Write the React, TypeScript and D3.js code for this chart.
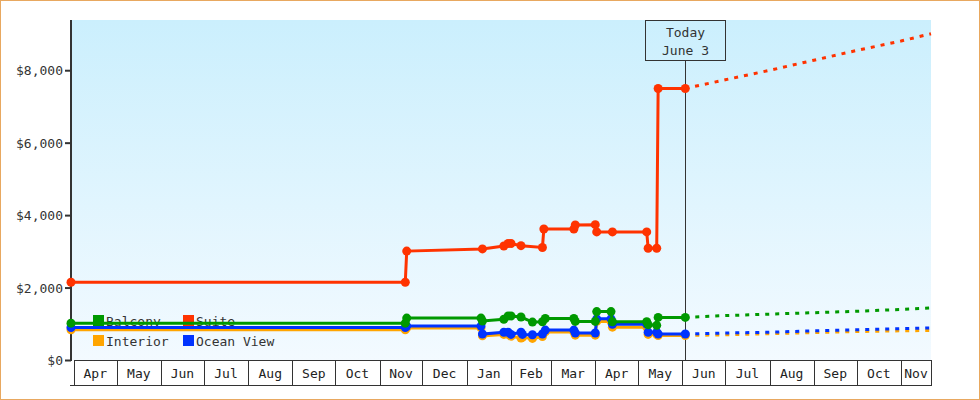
import React, { useEffect, useRef } from "react";
import * as d3 from "d3";

// price history per cabin type: [date, price]
const interiorHistory: [string, number][] = [
  ["2022-03-30", 850], ["2022-11-19", 850], ["2022-11-20", 900],
  ["2023-01-11", 900], ["2023-01-12", 680], ["2023-01-27", 720],
  ["2023-01-30", 720], ["2023-02-01", 670], ["2023-02-08", 620],
  ["2023-02-09", 640], ["2023-02-16", 610], ["2023-02-23", 660],
  ["2023-02-25", 790], ["2023-03-17", 790], ["2023-03-18", 700],
  ["2023-04-01", 700], ["2023-04-02", 1080], ["2023-04-12", 1080],
  ["2023-04-13", 920], ["2023-05-07", 920], ["2023-05-08", 720],
  ["2023-05-14", 720], ["2023-05-15", 690], ["2023-06-03", 690],
];
const oceanViewHistory: [string, number][] = [
  ["2022-03-30", 910], ["2022-11-19", 910], ["2022-11-20", 950],
  ["2023-01-11", 950], ["2023-01-12", 730], ["2023-01-27", 780],
  ["2023-01-30", 780], ["2023-02-01", 720], ["2023-02-08", 780],
  ["2023-02-09", 720], ["2023-02-16", 710], ["2023-02-23", 730],
  ["2023-02-25", 840], ["2023-03-17", 840], ["2023-03-18", 760],
  ["2023-04-01", 760], ["2023-04-02", 1150], ["2023-04-12", 1150],
  ["2023-04-13", 1000], ["2023-05-07", 1000], ["2023-05-08", 780],
  ["2023-05-14", 780], ["2023-05-15", 730], ["2023-06-03", 730],
];
const balconyHistory: [string, number][] = [
  ["2022-03-30", 1030], ["2022-11-19", 1030], ["2022-11-20", 1170],
  ["2023-01-11", 1170], ["2023-01-12", 1090], ["2023-01-27", 1140],
  ["2023-01-30", 1230], ["2023-02-01", 1230], ["2023-02-08", 1200],
  ["2023-02-16", 1060], ["2023-02-23", 1070], ["2023-02-25", 1160],
  ["2023-03-17", 1160], ["2023-03-18", 1080], ["2023-04-01", 1080],
  ["2023-04-02", 1350], ["2023-04-12", 1350], ["2023-04-13", 1070],
  ["2023-05-07", 1070], ["2023-05-08", 990], ["2023-05-14", 970],
  ["2023-05-15", 1190], ["2023-06-03", 1190],
];
const suiteHistory: [string, number][] = [
  ["2022-03-30", 2160], ["2022-11-19", 2160], ["2022-11-20", 3020],
  ["2023-01-12", 3080], ["2023-01-27", 3160], ["2023-01-30", 3230],
  ["2023-02-01", 3230], ["2023-02-08", 3170], ["2023-02-23", 3120],
  ["2023-02-24", 3630], ["2023-03-17", 3630], ["2023-03-18", 3740],
  ["2023-04-01", 3750], ["2023-04-02", 3550], ["2023-04-13", 3550],
  ["2023-05-07", 3550], ["2023-05-08", 3100], ["2023-05-14", 3100],
  ["2023-05-15", 7510], ["2023-06-03", 7510],
];

// projected prices after today
const projectionDates = ["2023-06-03", "2023-07-01", "2023-08-01", "2023-09-01", "2023-10-01", "2023-11-01", "2023-11-22"];
const interiorProjection = [690, 710, 740, 770, 800, 820, 830];
const oceanViewProjection = [730, 760, 780, 820, 850, 880, 900];
const balconyProjection = [1190, 1240, 1280, 1320, 1360, 1410, 1450];
const suiteProjection = [7510, 7750, 8010, 8290, 8560, 8820, 9020];

const seriesNames = ["Interior", "Ocean View", "Balcony", "Suite"];
const seriesColors = ["#FFA500", "#0033FF", "#009900", "#FF3300"];
const legendOrder = ["Balcony", "Suite", "Interior", "Ocean View"];
const priceTicks = [0, 2000, 4000, 6000, 8000];
const dateDomain = ["2022-03-30", "2023-11-22"];
const todayDate = "2023-06-03";
const todayLabel = ["Today", "June 3"];

const FONT = "'DejaVu Sans Mono', monospace";

export default function App() {
  const ref = useRef<SVGSVGElement>(null);

  useEffect(() => {
    const parse = d3.timeParse("%Y-%m-%d");
    const svg = d3.select(ref.current);
    svg.selectAll("*").remove();

    const left = 71, right = 931, top = 20, bottom = 360.5;

    const x = d3.scaleTime()
      .domain(dateDomain.map(d => parse(d) as Date))
      .range([left, right]);
    const y = d3.scaleLinear().domain([0, 9400]).range([bottom, top]);

    // background gradient
    const defs = svg.append("defs");
    const grad = defs.append("linearGradient")
      .attr("id", "bg").attr("x1", 0).attr("y1", 0).attr("x2", 0).attr("y2", 1);
    grad.append("stop").attr("offset", "0%").attr("stop-color", "#CBEFFD");
    grad.append("stop").attr("offset", "100%").attr("stop-color", "#F3FAFF");

    svg.append("rect")
      .attr("x", 0.5).attr("y", 0.5).attr("width", 979).attr("height", 399)
      .attr("fill", "#fff").attr("stroke", "#E8A860");

    svg.append("rect")
      .attr("x", left).attr("y", top)
      .attr("width", right - left).attr("height", bottom - top)
      .attr("fill", "url(#bg)");

    // legend (sits under the lines)
    const legend = svg.append("g").attr("font-family", FONT).attr("font-size", 13);
    legendOrder.forEach((name, i) => {
      const col = i % 2, row = Math.floor(i / 2);
      const gx = 93 + col * 90, gy = 315 + row * 20;
      legend.append("rect")
        .attr("x", gx).attr("y", gy).attr("width", 11).attr("height", 11)
        .attr("fill", seriesColors[seriesNames.indexOf(name)]);
      legend.append("text")
        .attr("x", gx + 13).attr("y", gy + 10.5)
        .attr("fill", "#333").text(name);
    });

    // month boxes along the bottom
    const months = d3.timeMonth.range(new Date(2022, 3, 1), new Date(2023, 11, 1));
    const axis = svg.append("g").attr("font-family", FONT).attr("font-size", 13);
    months.forEach(m => {
      const x0 = x(m);
      const x1 = Math.min(x(d3.timeMonth.offset(m, 1)), right);
      axis.append("rect")
        .attr("x", Math.round(x0) + 0.5).attr("y", 360.5)
        .attr("width", Math.round(x1) - Math.round(x0)).attr("height", 25)
        .attr("fill", "#fff").attr("stroke", "#333");
      axis.append("text")
        .attr("x", (x0 + x1) / 2).attr("y", 378)
        .attr("text-anchor", "middle").attr("fill", "#222")
        .text(d3.timeFormat("%b")(m));
    });
    axis.append("line")
      .attr("x1", 70).attr("x2", right).attr("y1", 385.5).attr("y2", 385.5)
      .attr("stroke", "#333");

    // y axis
    const yAxis = svg.append("g").attr("font-family", FONT).attr("font-size", 13);
    yAxis.append("line")
      .attr("x1", left).attr("x2", left).attr("y1", top).attr("y2", 361)
      .attr("stroke", "#333").attr("stroke-width", 2);
    priceTicks.forEach(t => {
      yAxis.append("line")
        .attr("x1", 65).attr("x2", left).attr("y1", y(t)).attr("y2", y(t))
        .attr("stroke", "#333").attr("stroke-width", 2);
      yAxis.append("text")
        .attr("x", 63).attr("y", y(t) + 4.5)
        .attr("text-anchor", "end").attr("fill", "#333")
        .text("$" + d3.format(",")(t));
    });

    // today marker
    const tx = Math.round(x(parse(todayDate) as Date)) + 0.5;
    svg.append("line")
      .attr("x1", tx).attr("x2", tx).attr("y1", 61).attr("y2", bottom)
      .attr("stroke", "#333");
    svg.append("rect")
      .attr("x", 645.5).attr("y", 20.5).attr("width", 80).attr("height", 40)
      .attr("fill", "none").attr("stroke", "#333");
    todayLabel.forEach((s, i) => {
      svg.append("text")
        .attr("x", tx).attr("y", 37 + i * 18)
        .attr("text-anchor", "middle").attr("font-family", FONT)
        .attr("font-size", 13).attr("fill", "#333").text(s);
    });

    const histories = [interiorHistory, oceanViewHistory, balconyHistory, suiteHistory];
    const projections = [interiorProjection, oceanViewProjection, balconyProjection, suiteProjection];

    const line = d3.line<[Date, number]>().x(d => x(d[0])).y(d => y(d[1]));

    histories.forEach((hist, i) => {
      const color = seriesColors[i];
      const pts: [Date, number][] = hist.map(d => [parse(d[0]) as Date, d[1]]);
      const proj: [Date, number][] = projectionDates.map((d, j) => [parse(d) as Date, projections[i][j]]);

      svg.append("path")
        .datum(proj)
        .attr("fill", "none").attr("stroke", color)
        .attr("stroke-width", 3).attr("stroke-dasharray", "4,6")
        .attr("d", line);

      svg.append("path")
        .datum(pts)
        .attr("fill", "none").attr("stroke", color)
        .attr("stroke-width", 3)
        .attr("d", line);

      svg.append("g").selectAll("circle")
        .data(pts).enter().append("circle")
        .attr("cx", d => x(d[0])).attr("cy", d => y(d[1]))
        .attr("r", 4.5).attr("fill", color);
    });
  }, []);

  return (
    <div className="Graph">
      <svg ref={ref} width={980} height={400}
        style={{ position: "absolute", left: 0, top: 0 }} />
    </div>
  );
}
